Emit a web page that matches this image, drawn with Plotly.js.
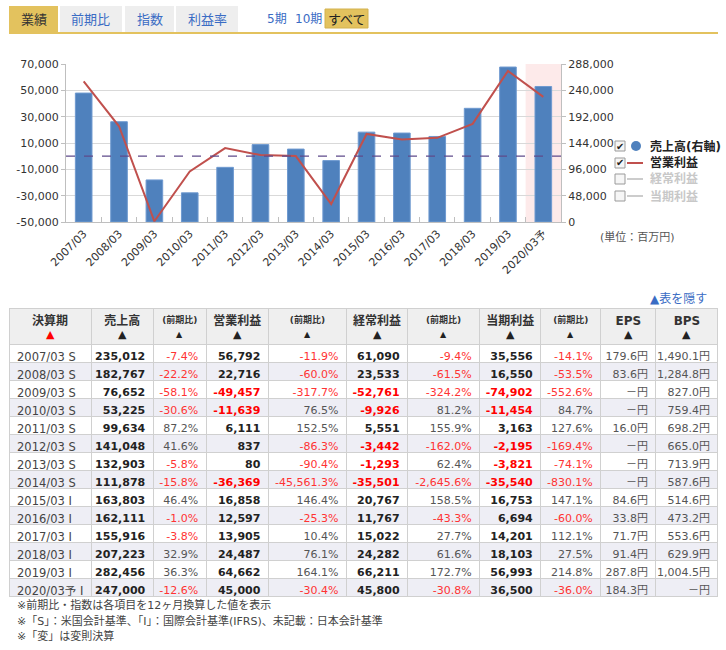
<!DOCTYPE html>
<html><head><meta charset="utf-8">
<script src="https://cdn.plot.ly/plotly-3.0.1.min.js"></script>
<style>html,body{margin:0;padding:0;background:#fff}</style>
</head><body><div id="chart" style="width:726px;height:650px"></div>
<script>
// ---------- data ----------
const categories = ["2007/03","2008/03","2009/03","2010/03","2011/03","2012/03","2013/03","2014/03","2015/03","2016/03","2017/03","2018/03","2019/03","2020/03予"];
const periods = ["2007/03 S","2008/03 S","2009/03 S","2010/03 S","2011/03 S","2012/03 S","2013/03 S","2014/03 S","2015/03 I","2016/03 I","2017/03 I","2018/03 I","2019/03 I","2020/03予 I"];
const sales = [235012,182767,76652,53225,99634,141048,132903,111878,163803,162111,155916,207223,282456,247000];
const salesChg = [-7.4,-22.2,-58.1,-30.6,87.2,41.6,-5.8,-15.8,46.4,-1.0,-3.8,32.9,36.3,-12.6];
const opProfit = [56792,22716,-49457,-11639,6111,837,80,-36369,16858,12597,13905,24487,64662,45000];
const opChg = [-11.9,-60.0,-317.7,76.5,152.5,-86.3,-90.4,-45561.3,146.4,-25.3,10.4,76.1,164.1,-30.4];
const ordProfit = [61090,23533,-52761,-9926,5551,-3442,-1293,-35501,20767,11767,15022,24282,66211,45800];
const ordChg = [-9.4,-61.5,-324.2,81.2,155.9,-162.0,62.4,-2645.6,158.5,-43.3,27.7,61.6,172.7,-30.8];
const netProfit = [35556,16550,-74902,-11454,3163,-2195,-3821,-35540,16753,6694,14201,18103,56993,36500];
const netChg = [-14.1,-53.5,-552.6,84.7,127.6,-169.4,-74.1,-830.1,147.1,-60.0,112.1,27.5,214.8,-36.0];
const eps = [179.6,83.6,null,null,16.0,null,null,null,84.6,33.8,71.7,91.4,287.8,184.3];
const bps = [1490.1,1284.8,827.0,759.4,698.2,665.0,713.9,587.6,514.6,473.2,553.6,629.9,1004.5,null];
const leftTicks = [-50000,-30000,-10000,10000,30000,50000,70000];
const leftTickText = ["-50,000","-30,000","-10,000","10,000","30,000","50,000","70,000"];
const rightTicks = [0,48000,96000,144000,192000,240000,288000];
const rightTickText = ["0","48,000","96,000","144,000","192,000","240,000","288,000"];
const headers = ["決算期","売上高","(前期比)","営業利益","(前期比)","経常利益","(前期比)","当期利益","(前期比)","EPS","BPS"];
const columnWidths = [82,62,53,62,78,61,72,61,60,55,62];
const tabs = ["業績","前期比","指数","利益率"];
const periodLinks = ["5期","10期","すべて"];
const legendNames = ["売上高(右軸)","営業利益","経常利益","当期利益"];
const footnotes = ["※前期比・指数は各項目を12ヶ月換算した値を表示","※「S」：米国会計基準、「I」：国際会計基準(IFRS)、未記載：日本会計基準","※「変」は変則決算"];

// ---------- helpers ----------
const W = 726, H = 650;
const px = x => x / W, py = y => 1 - y / H;
const FONT = "DejaVu Sans, Noto Sans CJK JP, sans-serif";
const BLUE = "#4f81bd", RED = "#c0504d", LINK = "#3a6cc4";
const fmtInt = v => v.toLocaleString('en-US');
const fmt1 = v => v.toLocaleString('en-US',{minimumFractionDigits:1,maximumFractionDigits:1});
const NB = '\u00a0';

// ---------- chart traces ----------
const barTrace = {type:'bar', x:categories, y:sales, yaxis:'y', name:legendNames[0],
  marker:{color:BLUE, line:{color:'#6f9ad0', width:1}}, hoverinfo:'skip'};
const lineTrace = {type:'scatter', mode:'lines', x:categories, y:opProfit, yaxis:'y2', name:legendNames[1],
  line:{color:RED, width:2}, hoverinfo:'skip'};

// ---------- table ----------
const valCell = v => fmtInt(v);
const valColor = v => v < 0 ? '#ff0000' : '#222222';
const pctCell = v => `${fmt1(v)}%`;
const pctColor = v => v < 0 ? '#ff3333' : '#555555';
const yenCell = v => (v == null ? '－' : fmt1(v)) + '円';
const cols = [
  [periods.map(p=>p.replace(/ /g, NB)), periods.map(()=>'#444444')],
  [sales.map(valCell), sales.map(valColor)],
  [salesChg.map(pctCell), salesChg.map(pctColor)],
  [opProfit.map(valCell), opProfit.map(valColor)],
  [opChg.map(pctCell), opChg.map(pctColor)],
  [ordProfit.map(valCell), ordProfit.map(valColor)],
  [ordChg.map(pctCell), ordChg.map(pctColor)],
  [netProfit.map(valCell), netProfit.map(valColor)],
  [netChg.map(pctCell), netChg.map(pctColor)],
  [eps.map(yenCell), eps.map(()=>'#555555')],
  [bps.map(yenCell), bps.map(()=>'#555555')]
];
const colWeights = ['normal','bold','normal','bold','normal','bold','normal','bold','normal','normal','normal'];
const rowFill = periods.map((_, i) => i % 2 ? '#eeeef5' : '#ffffff');
const headerSizes = headers.map(h => h.startsWith('(') ? 9 : 12);
const tableTrace = {
  type:'table',
  domain:{x:[px(9), px(718)], y:[0, py(308)]},
  columnwidth:columnWidths,
  header:{values:headers, align:'center', height:36,
    fill:{color:'#efefef'}, line:{color:'#d0d0d0', width:1},
    font:{family:FONT, size:headerSizes, color:'#333', weight:'bold'}},
  cells:{values:cols.map(c=>c[0]), align:['left','right','right','right','right','right','right','right','right','right','right'],
    height:18, fill:{color:cols.map(()=>rowFill)}, line:{color:'#d0d0d0', width:1},
    font:{family:FONT, size:[11.5,11,11,11,11,11,11,11,11,11,11], color:cols.map(c=>c[1]), weight:colWeights}}
};

// ---------- decorations ----------
const shapes = [];
const annotations = [];
const rect = (x0,y0,x1,y1,fill,line) => shapes.push({type:'rect', xref:'paper', yref:'paper',
  x0:px(x0), x1:px(x1), y0:py(y1), y1:py(y0), fillcolor:fill, line:line||{width:0}, layer:'above'});
const text = (t,x,y,opt) => annotations.push(Object.assign({text:t, x:px(x), y:py(y), xref:'paper', yref:'paper',
  showarrow:false, xanchor:'center', yanchor:'middle', font:{family:FONT, size:12, color:'#333'}}, opt||{}));

// sort arrows under table headers
{
  const total = columnWidths.reduce((a,b)=>a+b,0);
  let x = 9;
  columnWidths.forEach((w,i)=>{
    const cw = w / total * (718-9);
    const small = headers[i].startsWith('(');
    text('▲', x + cw/2, 334, {font:{family:FONT, size: small ? 8 : 11, color: i===0 ? '#ff0000' : '#222'}});
    x += cw;
  });
}

// tabs
const tabBox = [[9,58],[60,122],[125,174],[176,238]];
tabs.forEach((t,i)=>{
  rect(tabBox[i][0],6,tabBox[i][1],32, i===0 ? '#e3c25e' : '#eeeeee');
  text(t,(tabBox[i][0]+tabBox[i][1])/2,19,{font:{family:FONT,size:13,color:i===0?'#333':LINK}});
});
rect(9,32,718,34,'#e3c25e');
rect(325,9,368,28,'#e3c25e',{color:'#d3b24e',width:1});
text(periodLinks[0],277,19,{font:{family:FONT,size:12,color:LINK}});
text(periodLinks[1],308,19,{font:{family:FONT,size:12,color:LINK}});
text(periodLinks[2],346.5,19,{font:{family:FONT,size:13,color:'#222'}});

// forecast band + zero line
shapes.push({type:'rect', xref:'x', yref:'y domain', x0:categories.length-1.5, x1:categories.length-0.5,
  y0:0, y1:1, fillcolor:'#fdeaea', line:{width:0}, layer:'below'});
shapes.push({type:'line', xref:'x domain', yref:'y2', x0:0, x1:1, y0:0, y1:0,
  line:{color:'#5f4b8b', width:1.2, dash:'dash'}, layer:'above'});

// legend
const legY = [146,163,179,196];
legY.forEach((y,i)=>{
  rect(615,y-5,625,y+5,'#f6f6f6',{color:'#9a9a9a',width:1});
  const on = i < 2;
  if (on) text('✔',620,y,{font:{family:FONT,size:10,color:'#222'}});
  if (i === 0) shapes.push({type:'circle', xref:'paper', yref:'paper', x0:px(631), x1:px(641), y0:py(y+5), y1:py(y-5),
    fillcolor:BLUE, line:{width:0}});
  else shapes.push({type:'line', xref:'paper', yref:'paper', x0:px(627), x1:px(643), y0:py(y), y1:py(y),
    line:{color: i===1 ? RED : '#cccccc', width:2}});
  text(`<b>${legendNames[i]}</b>`,648,y,{xanchor:'left',font:{family:FONT,size:12,color:on?'#222':'#c8c8c8'}});
});

text('(単位：百万円)',637,237,{font:{family:FONT,size:11,color:'#555'}});
text('▲表を隠す',709,299,{xanchor:'right',font:{family:FONT,size:12,color:LINK}});
footnotes.forEach((f,i)=>text(f,15,605+i*15.5,{xanchor:'left',font:{family:FONT,size:11,color:'#444'}}));

// ---------- layout ----------
const layout = {
  width:W, height:H, margin:{l:0,r:0,t:0,b:0}, paper_bgcolor:'#fff', plot_bgcolor:'rgba(0,0,0,0)',
  showlegend:false, bargap:0.53, font:{family:FONT, size:11, color:'#333'},
  xaxis:{domain:[px(66), px(561)], type:'category', tickangle:-45, tickfont:{family:FONT,size:11,color:'#333'},
    showline:true, linecolor:'#bfbfbf', ticks:'inside', tickson:'boundaries', ticklen:5, tickcolor:'#bfbfbf',
    showgrid:false, anchor:'y', fixedrange:true},
  yaxis:{domain:[py(222), py(64)], side:'right', range:[0,288000], tickmode:'array', tickvals:rightTicks, ticktext:rightTickText,
    showgrid:true, gridcolor:'#d9d9d9', showline:true, linecolor:'#bfbfbf', ticks:'outside', ticklen:4, tickcolor:'#bfbfbf',
    zeroline:false, tickfont:{family:FONT,size:11,color:'#333'}, fixedrange:true},
  yaxis2:{overlaying:'y', side:'left', range:[-50000,70000], tickmode:'array', tickvals:leftTicks, ticktext:leftTickText,
    showgrid:false, zeroline:false, showline:true, linecolor:'#bfbfbf', ticks:'outside', ticklen:4, tickcolor:'#bfbfbf',
    tickfont:{family:FONT,size:11,color:'#333'}, fixedrange:true},
  shapes:shapes, annotations:annotations
};

Plotly.newPlot('chart', [barTrace, lineTrace, tableTrace], layout, {displayModeBar:false, staticPlot:true});
</script>
</body></html>
